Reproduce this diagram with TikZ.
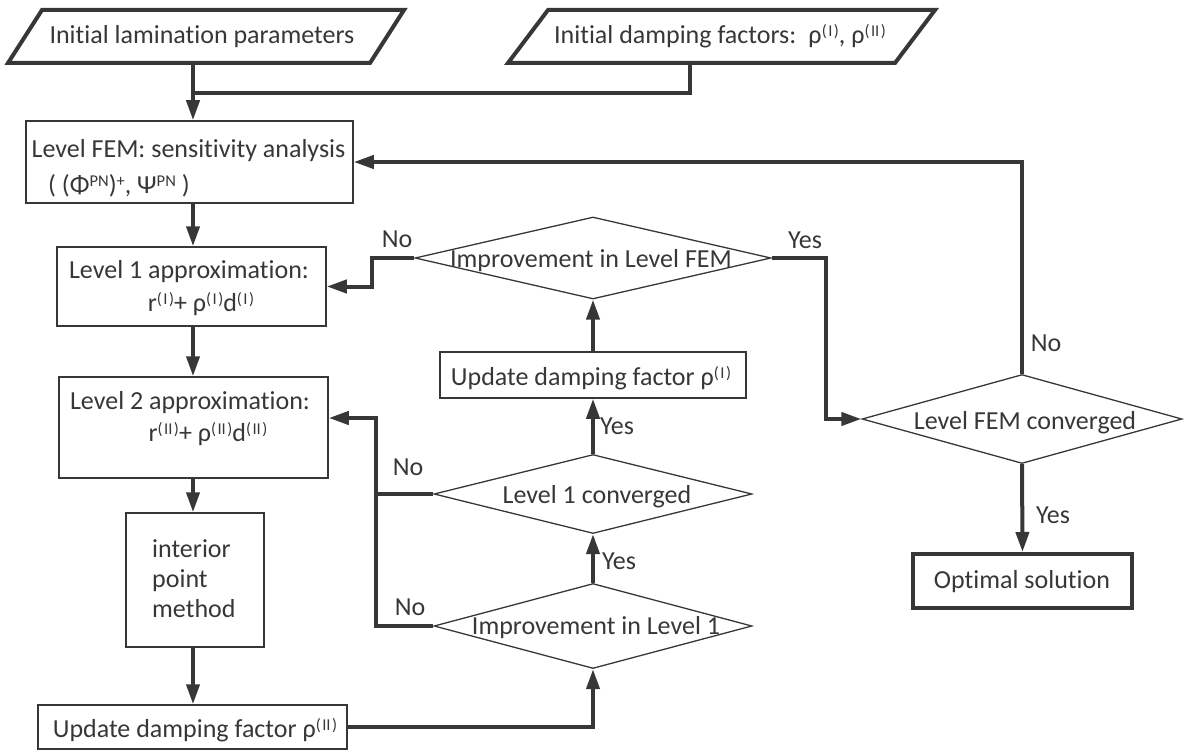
\documentclass[tikz,border=0pt]{standalone}
\usepackage{fontspec}
\setmainfont{Carlito}[Ligatures=NoCommon]
\usetikzlibrary{shapes.geometric,arrows.meta,calc}
\definecolor{ink}{RGB}{55,55,55}
\newcommand\up[1]{\raisebox{7pt}{\fontsize{16.5}{16.5}\selectfont #1}}
\newcommand\supI{\up{(\kern1.5pt I\kern1.5pt)}}
\newcommand\supII{\up{(\kern1.5pt II\kern1.5pt)}}
\begin{document}
\begin{tikzpicture}[x=1pt,y=-1pt,
  txt/.style={inner sep=0pt,text=ink,font=\fontsize{26}{30}\selectfont},
  box/.style={draw=ink,line width=1.5pt,rectangle,inner sep=0pt},
  thickbox/.style={box,line width=4pt},
  dia/.style={draw=ink,line width=1.3pt,diamond,inner sep=0pt},
  conn/.style={draw=ink,line width=4pt},
  arr/.style={conn,-{Triangle[length=20pt,width=13pt]}},
  para/.style={draw=ink,line width=4pt,line join=miter}]
\useasboundingbox (0,0) rectangle (1184,752);

% input parallelograms
\draw[para] (8,63) -- (42,10) -- (404,10) -- (370,63) -- cycle;
\node[txt,anchor=base] (p1) at (202,44) {Initial lamination parameters};
\draw[para] (508,63) -- (548,10) -- (935,10) -- (895,63) -- cycle;
\node[txt,anchor=base] (p2) at (720,44) {Initial damping factors:\, ρ\supI, ρ\supII};
\coordinate (p1b) at (193,63);
\coordinate (p2b) at (690,63);
\coordinate (join) at (193,93);

% boxes
\node[box,minimum width=327pt,minimum height=82pt] (fem) at (189.5,162) {};
\node[box,minimum width=269pt,minimum height=79pt] (l1) at (191.5,286.5) {};
\node[box,minimum width=269pt,minimum height=101pt] (l2) at (193.5,427.5) {};
\node[box,minimum width=138pt,minimum height=134pt] (ipm) at (195,580) {};
\node[box,minimum width=309pt,minimum height=44pt] (u2) at (192.5,727) {};
\node[box,minimum width=306pt,minimum height=46pt] (u1) at (593,375) {};
\node[dia,minimum width=356pt,minimum height=82pt] (dfem) at (593,258) {};
\node[dia,minimum width=318pt,minimum height=79pt] (dl1c) at (593,494) {};
\node[dia,minimum width=318pt,minimum height=85pt] (dil1) at (593,626) {};
\node[dia,minimum width=320pt,minimum height=89pt] (dconv) at (1022,419) {};
\node[thickbox,minimum width=219pt,minimum height=54pt] (opt) at (1022.5,581) {};

% texts
\node[txt,anchor=base] at (188.5,157) {Level FEM: sensitivity analysis};
\node[txt,anchor=base west] at (48,193) {( (Φ\up{PN})\up{+}, Ψ\up{PN} )};
\node[txt,anchor=base] at (189,278) {Level 1 approximation:};
\node[txt,anchor=base] at (201,311) {r\supI{}+ ρ\supI{}d\supI};
\node[txt,anchor=base] at (190,409) {Level 2 approximation:};
\node[txt,anchor=base] at (208,441) {r\supII{}+ ρ\supII{}d\supII};
\node[txt,anchor=base west] at (152,557) {interior};
\node[txt,anchor=base west] at (152,587) {point};
\node[txt,anchor=base west] at (152,617) {method};
\node[txt,anchor=base] at (195,737) {Update damping factor ρ\supII};
\node[txt,anchor=base] at (591,385) {Update damping factor ρ\supI};
\node[txt,anchor=base] at (591,267) {Improvement in Level FEM};
\node[txt,anchor=base] at (597,503) {Level 1 converged};
\node[txt,anchor=base] at (596,634) {Improvement in Level 1};
\node[txt,anchor=base] at (1025,429) {Level FEM converged};
\node[txt,anchor=base] at (1022,588) {Optimal solution};

% connectors
\draw[arr] (p1b) -- (p1b |- fem.north);
\draw[conn] (p2b) |- (join);
\draw[arr] (fem.south -| p1b) -- (l1.north -| p1b);
\draw[arr] (l1.south -| p1b) -- (l2.north -| p1b);
\draw[arr] (l2.south -| p1b) -- (ipm.north -| p1b);
\draw[arr] (ipm.south -| p1b) -- (u2.north -| p1b);
\draw[arr] (u2.east) -| (dil1.south);
\draw[arr] (dil1.north) -- (dl1c.south);
\draw[arr] (dl1c.north) -- (u1.south);
\draw[arr] (u1.north) -- (dfem.south);
\draw[arr] (dfem.west) -- ++(-42,0) |- (l1.east);
\draw[arr] (dfem.east) -- ++(54,0) |- (dconv.west);
\draw[arr] (dconv.north) |- (fem.east);
\draw[arr] (dconv.south) -- (opt.north);
\draw[conn] (dl1c.west) -- ++(-57,0);
\draw[arr] (dil1.west) -- ++(-57,0) |- ([yshift=9.5pt]l2.east);

% labels
\node[txt,anchor=base] at (397,247) {No};
\node[txt,anchor=base] at (805,248) {Yes};
\node[txt,anchor=base] at (617,434) {Yes};
\node[txt,anchor=base] at (408,475) {No};
\node[txt,anchor=base] at (619,569) {Yes};
\node[txt,anchor=base] at (410,615) {No};
\node[txt,anchor=base] at (1046,351) {No};
\node[txt,anchor=base] at (1053,523) {Yes};
\end{tikzpicture}
\end{document}
